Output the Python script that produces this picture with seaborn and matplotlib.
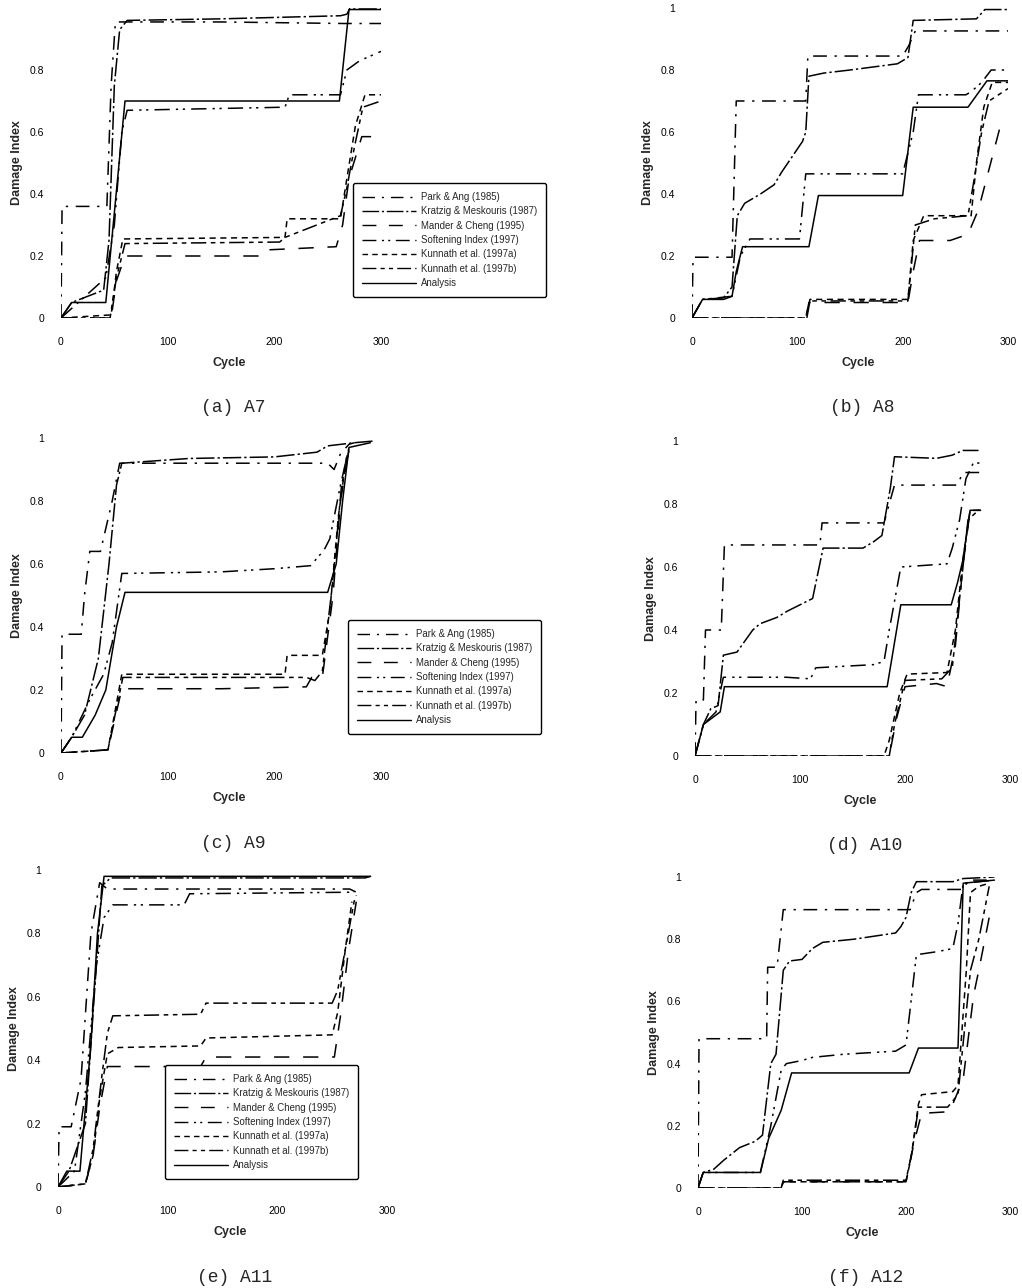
import pandas as pd
import matplotlib
matplotlib.use("Agg")
import matplotlib.pyplot as plt
from matplotlib.lines import Line2D
import seaborn as sns

# legend labels
methods = ["Park & Ang (1985)", "Kratzig & Meskouris (1987)", "Mander & Cheng (1995)",
           "Softening Index (1997)", "Kunnath et al. (1997a)", "Kunnath et al. (1997b)", "Analysis"]

# ---- A7 ----
a7_park = ([0, 1, 43, 47, 51, 150, 265, 300], [0, 0.36, 0.36, 0.75, 0.955, 0.955, 0.95, 0.95])
a7_kratzig = ([0, 10, 40, 45, 50, 55, 62, 150, 262, 268, 271, 300],
              [0, 0.05, 0.09, 0.25, 0.75, 0.93, 0.96, 0.965, 0.975, 0.98, 1.0, 1.0])
a7_mander = ([0, 47, 52, 60, 190, 195, 258, 264, 270, 282, 300],
             [0, 0, 0.12, 0.2, 0.2, 0.22, 0.23, 0.3, 0.45, 0.585, 0.585])
a7_soft = ([0, 42, 50, 57, 62, 210, 214, 262, 268, 280, 300],
           [0, 0.13, 0.3, 0.6, 0.67, 0.68, 0.72, 0.72, 0.8, 0.83, 0.86])
a7_kun_a = ([0, 47, 52, 58, 210, 212, 262, 268, 276, 285, 300],
            [0, 0.01, 0.15, 0.255, 0.26, 0.32, 0.32, 0.45, 0.62, 0.72, 0.72])
a7_kun_b = ([0, 46, 52, 60, 205, 210, 262, 268, 275, 283, 300],
            [0, 0, 0.13, 0.24, 0.245, 0.26, 0.33, 0.42, 0.55, 0.68, 0.7])
a7_analysis = ([0, 10, 42, 60, 261, 270, 300], [0, 0.05, 0.05, 0.70, 0.70, 0.995, 0.995])

# ---- A8 ----
a8_park = ([0, 1, 38, 42, 108, 110, 200, 206, 212, 300],
           [0, 0.196, 0.196, 0.70, 0.70, 0.845, 0.845, 0.88, 0.926, 0.926])
a8_kratzig = ([0, 10, 30, 38, 43, 50, 65, 78, 85, 95, 105, 108, 111, 125, 150, 195, 205, 210, 270, 278, 300],
              [0, 0.06, 0.065, 0.10, 0.33, 0.37, 0.40, 0.43, 0.47, 0.52, 0.57, 0.60, 0.78, 0.79, 0.80, 0.82,
               0.84, 0.96, 0.965, 0.995, 0.995])
a8_mander = ([0, 108, 111, 205, 210, 216, 245, 262, 272, 282, 292, 300],
             [0, 0, 0.05, 0.05, 0.15, 0.25, 0.25, 0.27, 0.35, 0.48, 0.61, 0.61])
a8_soft = ([0, 10, 38, 46, 55, 102, 108, 200, 210, 215, 260, 265, 275, 284, 300],
           [0, 0.06, 0.07, 0.2, 0.255, 0.255, 0.465, 0.465, 0.6, 0.72, 0.72, 0.73, 0.76, 0.80, 0.80])
a8_kun_a = ([0, 108, 112, 205, 210, 220, 265, 270, 277, 285, 300],
            [0, 0, 0.06, 0.06, 0.25, 0.33, 0.33, 0.5, 0.68, 0.76, 0.76])
a8_kun_b = ([0, 109, 112, 205, 212, 230, 262, 268, 275, 282, 300],
            [0, 0, 0.055, 0.055, 0.3, 0.32, 0.33, 0.45, 0.6, 0.7, 0.74])
a8_analysis = ([0, 10, 30, 38, 42, 48, 111, 120, 200, 210, 262, 280, 300],
               [0, 0.06, 0.06, 0.07, 0.15, 0.23, 0.23, 0.395, 0.395, 0.68, 0.68, 0.765, 0.765])

# ---- A9 ----
a9_park = ([0, 1, 19, 22, 27, 37, 48, 55, 250, 256, 262, 270, 275],
           [0, 0.377, 0.377, 0.5, 0.64, 0.64, 0.8, 0.92, 0.92, 0.9, 0.95, 0.98, 0.985])
a9_kratzig = ([0, 10, 22, 35, 45, 52, 57, 120, 200, 240, 250, 275, 292],
              [0, 0.05, 0.12, 0.3, 0.6, 0.85, 0.92, 0.935, 0.94, 0.955, 0.975, 0.985, 0.99])
a9_mander = ([0, 44, 50, 57, 150, 230, 235, 245, 255, 262, 270],
             [0, 0.01, 0.1, 0.204, 0.204, 0.21, 0.24, 0.24, 0.5, 0.8, 0.97])
a9_soft = ([0, 10, 27, 40, 48, 57, 150, 200, 235, 240, 246, 252, 262, 270],
           [0, 0.05, 0.17, 0.25, 0.35, 0.57, 0.575, 0.585, 0.595, 0.62, 0.64, 0.68, 0.85, 0.97])
a9_kun_a = ([0, 44, 50, 57, 210, 212, 245, 252, 260, 268],
            [0, 0.01, 0.12, 0.25, 0.25, 0.31, 0.31, 0.45, 0.75, 0.95])
a9_kun_b = ([0, 44, 50, 58, 230, 238, 245, 255, 263, 270],
            [0, 0.01, 0.11, 0.24, 0.24, 0.23, 0.26, 0.55, 0.85, 0.96])
a9_analysis = ([0, 10, 20, 32, 42, 52, 60, 250, 258, 264, 270, 290],
               [0, 0.05, 0.05, 0.12, 0.2, 0.4, 0.51, 0.51, 0.6, 0.8, 0.97, 0.985])

# ---- A10 ----
a10_park = ([0, 1, 8, 10, 25, 28, 119, 121, 180, 190, 250, 255, 272],
            [0, 0.178, 0.178, 0.40, 0.40, 0.67, 0.67, 0.74, 0.74, 0.86, 0.86, 0.90, 0.90])
a10_kratzig = ([0, 8, 15, 22, 27, 40, 55, 62, 78, 88, 100, 112, 122, 160, 170, 178, 186, 190, 230, 245, 255, 270],
               [0, 0.10, 0.15, 0.16, 0.32, 0.33, 0.40, 0.42, 0.44, 0.46, 0.48, 0.50, 0.66, 0.66, 0.68, 0.70,
                0.85, 0.95, 0.945, 0.955, 0.97, 0.97])
a10_mander = ([0, 185, 192, 200, 230, 240, 248, 255, 262, 272],
              [0, 0, 0.12, 0.22, 0.23, 0.22, 0.35, 0.6, 0.78, 0.78])
a10_soft = ([0, 8, 20, 27, 87, 110, 115, 170, 180, 185, 196, 240, 245, 252, 258, 265, 272],
            [0, 0.1, 0.14, 0.25, 0.25, 0.245, 0.28, 0.29, 0.3, 0.4, 0.6, 0.61, 0.66, 0.75, 0.88, 0.93, 0.93])
a10_kun_a = ([0, 180, 185, 195, 202, 240, 248, 255, 262, 272],
             [0, 0, 0.05, 0.2, 0.26, 0.265, 0.4, 0.62, 0.78, 0.78])
a10_kun_b = ([0, 185, 190, 200, 235, 245, 252, 260, 270],
             [0, 0, 0.1, 0.24, 0.245, 0.28, 0.5, 0.75, 0.78])
a10_analysis = ([0, 8, 20, 24, 28, 183, 196, 244, 250, 255, 262, 272],
                [0, 0.10, 0.13, 0.14, 0.22, 0.22, 0.48, 0.48, 0.55, 0.62, 0.78, 0.78])

# ---- A11 ----
a11_park = ([0, 1, 12, 21, 30, 38, 45, 266, 272], [0, 0.19, 0.19, 0.34, 0.8, 0.96, 0.94, 0.94, 0.93])
a11_kratzig = ([0, 10, 25, 35, 40, 48, 280, 285], [0, 0.05, 0.2, 0.7, 0.95, 0.975, 0.975, 0.98])
a11_mander = ([0, 25, 32, 38, 45, 130, 135, 252, 258, 265, 272],
              [0, 0.01, 0.1, 0.25, 0.38, 0.38, 0.41, 0.41, 0.55, 0.75, 0.9])
a11_soft = ([0, 15, 25, 35, 42, 50, 115, 120, 270], [0, 0.05, 0.3, 0.7, 0.85, 0.89, 0.89, 0.925, 0.93])
a11_kun_a = ([0, 25, 32, 38, 45, 55, 130, 135, 250, 255, 262, 268],
             [0, 0.01, 0.1, 0.28, 0.42, 0.44, 0.445, 0.47, 0.48, 0.55, 0.75, 0.9])
a11_kun_b = ([0, 25, 32, 40, 45, 50, 130, 135, 250, 255, 262, 270, 272],
             [0, 0.01, 0.12, 0.35, 0.485, 0.54, 0.545, 0.58, 0.58, 0.62, 0.75, 0.9, 0.92])
a11_analysis = ([0, 8, 20, 30, 36, 42, 285], [0, 0.05, 0.05, 0.45, 0.8, 0.98, 0.98])

# ---- A12 ----
a12_park = ([0, 1, 66, 67, 76, 82, 204, 210, 215, 255, 260, 285],
            [0, 0.48, 0.48, 0.71, 0.71, 0.895, 0.895, 0.95, 0.96, 0.96, 0.99, 0.99])
a12_kratzig = ([0, 5, 15, 25, 40, 55, 62, 70, 75, 82, 88, 100, 110, 120, 150, 190, 195, 200, 205, 210, 245, 255, 285],
               [0, 0.05, 0.06, 0.09, 0.13, 0.15, 0.17, 0.40, 0.43, 0.70, 0.73, 0.735, 0.77, 0.79, 0.80, 0.82,
                0.84, 0.87, 0.95, 0.985, 0.985, 0.995, 1.0])
a12_mander = ([0, 80, 82, 200, 208, 215, 240, 245, 255, 265, 270, 280, 285],
              [0, 0, 0.02, 0.02, 0.15, 0.24, 0.245, 0.27, 0.35, 0.62, 0.7, 0.87, 0.87])
a12_soft = ([0, 5, 60, 70, 80, 85, 100, 110, 140, 190, 200, 210, 230, 245, 250, 255, 285],
            [0, 0.05, 0.05, 0.2, 0.38, 0.40, 0.41, 0.42, 0.43, 0.44, 0.46, 0.75, 0.76, 0.77, 0.85, 0.98, 0.99])
a12_kun_a = ([0, 80, 82, 200, 205, 212, 215, 245, 250, 258, 262, 270, 280],
             [0, 0, 0.02, 0.02, 0.1, 0.27, 0.30, 0.31, 0.33, 0.7, 0.95, 0.97, 0.98])
a12_kun_b = ([0, 80, 82, 200, 206, 212, 240, 250, 262, 270, 280],
             [0, 0, 0.025, 0.025, 0.12, 0.26, 0.26, 0.3, 0.7, 0.8, 0.97])
a12_analysis = ([0, 5, 60, 68, 80, 90, 203, 212, 250, 255, 285],
                [0, 0.05, 0.05, 0.16, 0.25, 0.37, 0.37, 0.45, 0.45, 0.98, 0.99])

captions = ["(a) A7", "(b) A8", "(c) A9", "(d) A10", "(e) A11", "(f) A12"]
curves = [
    [a7_park, a7_kratzig, a7_mander, a7_soft, a7_kun_a, a7_kun_b, a7_analysis],
    [a8_park, a8_kratzig, a8_mander, a8_soft, a8_kun_a, a8_kun_b, a8_analysis],
    [a9_park, a9_kratzig, a9_mander, a9_soft, a9_kun_a, a9_kun_b, a9_analysis],
    [a10_park, a10_kratzig, a10_mander, a10_soft, a10_kun_a, a10_kun_b, a10_analysis],
    [a11_park, a11_kratzig, a11_mander, a11_soft, a11_kun_a, a11_kun_b, a11_analysis],
    [a12_park, a12_kratzig, a12_mander, a12_soft, a12_kun_a, a12_kun_b, a12_analysis],
]

dashes = {
    methods[0]: (9, 5, 1.5, 5),
    methods[1]: (12, 2, 1.5, 2),
    methods[2]: (10, 9),
    methods[3]: (10, 4, 1.5, 3, 1.5, 4),
    methods[4]: (4, 3),
    methods[5]: (10, 3, 3, 3, 3, 3),
    methods[6]: "",
}

sns.set_style("white")
plt.rcParams['font.family'] = ['Liberation Sans', 'DejaVu Sans']

W, H = 1022, 1288
fig = plt.figure(figsize=(W / 100, H / 100), dpi=100)

# pixel boxes: left, right, top, bottom
boxes = [(61, 381, 8, 318), (692, 1008, 8, 318),
         (61, 381, 438, 753), (695, 1010, 441, 756),
         (58, 387, 870, 1187), (698, 1010, 877, 1188)]
legend_at = {0: (353, 183), 2: (348, 620), 4: (165, 1065)}

for i, (l, r, t, b) in enumerate(boxes):
    ax = fig.add_axes([l / W, 1 - b / H, (r - l) / W, (b - t) / H])
    rows = []
    for m, (xs, ys) in zip(methods, curves[i]):
        for x, y in zip(xs, ys):
            rows.append({"Cycle": x, "DI": y, "method": m})
    df = pd.DataFrame(rows)
    sns.lineplot(data=df, x="Cycle", y="DI", style="method", dashes=dashes, color="black",
                 estimator=None, sort=False, units="method", legend=False, lw=1.1, ax=ax)
    ax.set_xlim(0, 300)
    ax.set_ylim(0, 1)
    for s in ax.spines.values():
        s.set_visible(False)
    ax.set_xticks([0, 100, 200, 300])
    ax.set_xticklabels(["0", "100", "200", "300"])
    yt = [0, 0.2, 0.4, 0.6, 0.8] if i == 0 else [0, 0.2, 0.4, 0.6, 0.8, 1]
    ax.set_yticks(yt)
    ax.set_yticklabels(["0", "0.2", "0.4", "0.6", "0.8", "1"][:len(yt)])
    ax.tick_params(length=0, labelsize=7.5, colors="black")
    ax.tick_params(axis="y", pad=12)
    ax.tick_params(axis="x", pad=14)
    ax.set_xlabel("")
    ax.set_ylabel("")
    ax.patch.set_alpha(0)

    cx = (l + r) / 2 + 8
    fig.text(cx / W, 1 - (b + 45) / H, "Cycle", ha="center", va="center",
             fontsize=9, fontweight="bold")
    fig.text((l - 44) / W, 1 - ((t + b) / 2) / H, "Damage Index", rotation=90,
             ha="center", va="center", fontsize=9, fontweight="bold")
    fig.text((cx + 4) / W, 1 - (b + 90) / H, captions[i], ha="center", va="center",
             fontsize=13, family="Liberation Mono")

    if i in legend_at:
        lx, ly = legend_at[i]
        handles = [Line2D([0], [0], color="black", lw=1.0, dashes=dashes[m]) for m in methods[:-1]]
        handles.append(Line2D([0], [0], color="black", lw=1.0))
        leg = ax.legend(handles, methods, loc="upper left", borderaxespad=0,
                        bbox_to_anchor=(lx / W, 1 - ly / H), bbox_transform=fig.transFigure,
                        fontsize=6.9, handlelength=5.6, labelspacing=0.45, borderpad=0.95,
                        handletextpad=0.5, fancybox=True, framealpha=1, edgecolor="black")
        leg.get_frame().set_linewidth(1.0)

fig.savefig("out.png", dpi=100)
